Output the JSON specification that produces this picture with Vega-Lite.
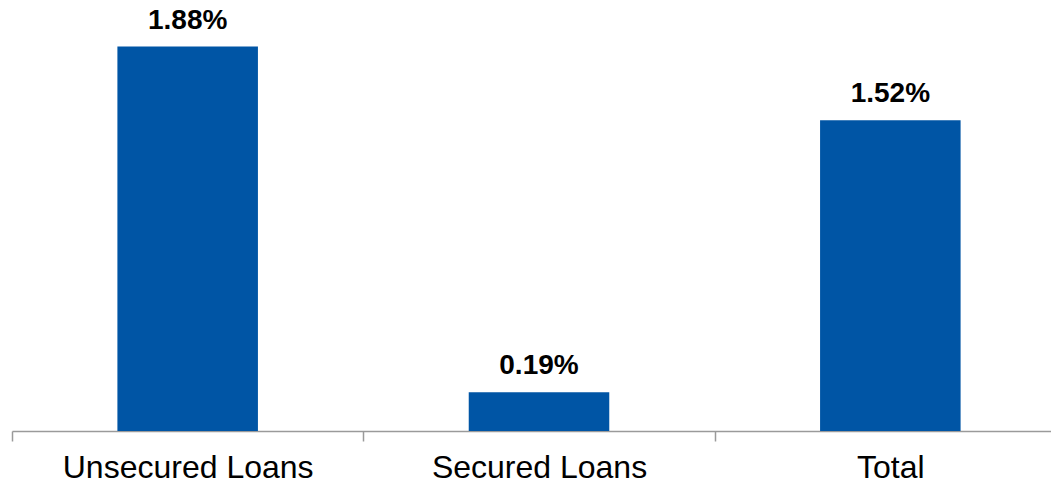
{
  "$schema": "https://vega.github.io/schema/vega-lite/v6.json",
  "autosize": {"type": "none"},
  "width": 1039,
  "height": 431,
  "padding": {"left": 12, "top": 0, "right": 0, "bottom": 52},
  "background": "white",
  "config": {"view": {"stroke": null}, "font": "Liberation Sans"},
  "data": {"values": [
    {"category": "Unsecured Loans", "value": 1.88, "label": "1.88%"},
    {"category": "Secured Loans", "value": 0.19, "label": "0.19%"},
    {"category": "Total", "value": 1.52, "label": "1.52%"}
  ]},
  "encoding": {
    "x": {
      "field": "category", "type": "nominal", "sort": null,
      "scale": {"range": [0, 1054], "paddingInner": 0, "paddingOuter": 0},
      "axis": {
        "title": null, "labelAngle": 0, "labelFont": "Liberation Sans",
        "labelFontSize": 32, "labelColor": "black", "labelPadding": 11, "labelLimit": 0,
        "tickBand": "extent", "tickSize": 10, "tickColor": "#9a9a9a", "tickWidth": 1.5,
        "domainColor": "#9a9a9a", "domainWidth": 1.5
      }
    },
    "y": {
      "field": "value", "type": "quantitative",
      "scale": {"domain": [0, 2.108], "nice": false},
      "axis": null
    }
  },
  "layer": [
    {"mark": {"type": "bar", "color": "#0055A5", "width": {"band": 0.4}}},
    {"mark": {"type": "text", "baseline": "alphabetic", "dy": -18, "fontSize": 28, "fontWeight": "bold", "color": "black", "font": "Liberation Sans"},
     "encoding": {"text": {"field": "label"}}}
  ]
}
